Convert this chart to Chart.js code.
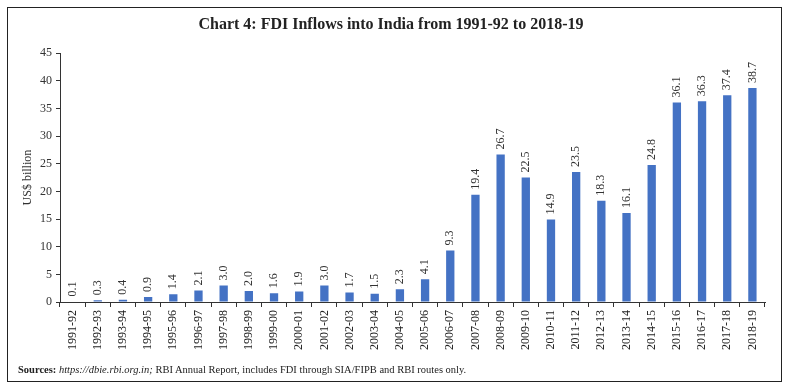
<!DOCTYPE html>
<html>
<head>
<meta charset="utf-8">
<script src="https://cdn.jsdelivr.net/npm/chart.js@4"></script>
<style>
    body { margin: 0; background: #fff; }
    #wrap { position: relative; width: 788px; height: 390px; }
    #fdiChart { position: absolute; left: 0; top: 0; }
    .frame { position: absolute; left: 7px; top: 7px; width: 773px; height: 373px; border: 1.5px solid #222; pointer-events: none; }
    .sources { position: absolute; left: 18px; top: 364px; font: 10.5px "Liberation Serif", serif; color: #222; white-space: nowrap; }
    .sources b { font-weight: bold; }
</style>
</head>
<body>
<div id="wrap">
    <canvas id="fdiChart" width="788" height="390"></canvas>
    <div class="frame"></div>
    <div class="sources"><b>Sources:</b> <i>https://dbie.rbi.org.in;</i> RBI Annual Report, includes FDI through SIA/FIPB and RBI routes only.</div>
</div>
<script>
// FDI inflows, US$ billion
const years = ['1991-92', '1992-93', '1993-94', '1994-95', '1995-96', '1996-97', '1997-98',
    '1998-99', '1999-00', '2000-01', '2001-02', '2002-03', '2003-04', '2004-05', '2005-06',
    '2006-07', '2007-08', '2008-09', '2009-10', '2010-11', '2011-12', '2012-13', '2013-14',
    '2014-15', '2015-16', '2016-17', '2017-18', '2018-19'];
const fdiInflows = [0.1, 0.3, 0.4, 0.9, 1.4, 2.1, 3.0, 2.0, 1.6, 1.9, 3.0, 1.7, 1.5, 2.3, 4.1,
    9.3, 19.4, 26.7, 22.5, 14.9, 23.5, 18.3, 16.1, 24.8, 36.1, 36.3, 37.4, 38.7];
const yTicks = [0, 5, 10, 15, 20, 25, 30, 35, 40, 45];

const serif = '"Liberation Serif", "DejaVu Serif", serif';

// value labels written upward above each bar
const barLabels = {
    id: 'barLabels',
    afterDatasetsDraw(chart) {
        const ctx = chart.ctx;
        const meta = chart.getDatasetMeta(0);
        ctx.save();
        ctx.font = '12px ' + serif;
        ctx.fillStyle = '#333';
        ctx.textAlign = 'left';
        ctx.textBaseline = 'middle';
        meta.data.forEach((bar, i) => {
            ctx.save();
            ctx.translate(bar.x, bar.y - 5);
            ctx.rotate(-Math.PI / 2);
            ctx.fillText(fdiInflows[i].toFixed(1), 0, 0);
            ctx.restore();
        });
        ctx.restore();
    }
};

new Chart(document.getElementById('fdiChart'), {
    type: 'bar',
    data: {
        labels: years,
        datasets: [{
            data: fdiInflows,
            backgroundColor: '#4472C4',
            categoryPercentage: 1,
            barPercentage: 0.33
        }]
    },
    options: {
        responsive: false,
        animation: false,
        layout: { padding: { left: 17, right: 23, top: 2, bottom: 37 } },
        plugins: {
            legend: { display: false },
            tooltip: { enabled: false },
            title: {
                display: true,
                text: 'Chart 4: FDI Inflows into India from 1991-92 to 2018-19',
                color: '#222',
                font: { family: serif, size: 16, weight: 'bold' },
                padding: { top: 13, bottom: 19 }
            }
        },
        scales: {
            x: {
                grid: { display: true, drawOnChartArea: false, offset: true, color: '#333', tickLength: 5 },
                border: { color: '#333', width: 1 },
                ticks: { color: '#222', font: { family: serif, size: 12 }, minRotation: 90, maxRotation: 90, autoSkip: false }
            },
            y: {
                min: 0,
                max: 45,
                afterBuildTicks(axis) { axis.ticks = yTicks.map(v => ({ value: v })); },
                afterFit(axis) { axis.width = 43; },
                grid: { drawOnChartArea: false, color: '#333', tickLength: 4 },
                border: { color: '#333', width: 1 },
                ticks: { color: '#333', font: { family: serif, size: 12 }, padding: 4 },
                title: { display: true, text: 'US$ billion', color: '#333', font: { family: serif, size: 12 }, padding: 4 }
            }
        }
    },
    plugins: [barLabels]
});
</script>
</body>
</html>
